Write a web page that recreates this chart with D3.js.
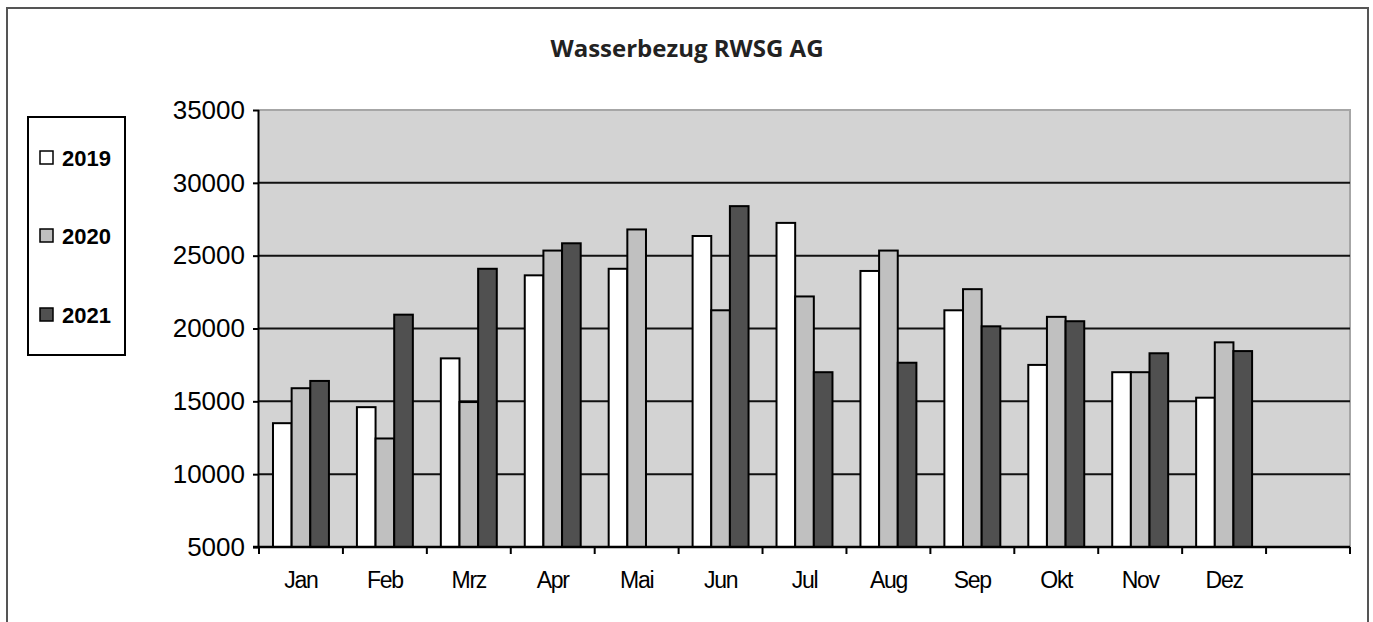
<!DOCTYPE html>
<html lang="de">
<head>
    <meta charset="utf-8">
    <script type="text/javascript" src="https://d3js.org/d3.v7.min.js"></script>
    <title>Wasserbezug RWSG AG</title>
    <style>
        html, body {
            margin: 0;
            padding: 0;
            background: white;
        }
        svg text {
            font-family: Arial, "Liberation Sans", sans-serif;
        }
    </style>
</head>
<body>
    <div id="chart"></div>

    <script type="text/javascript">

        // Data
        const months = ["Jan", "Feb", "Mrz", "Apr", "Mai", "Jun", "Jul", "Aug", "Sep", "Okt", "Nov", "Dez"];
        const years = ["2019", "2020", "2021"];
        const values2019 = [13500, 14600, 17950, 23650, 24100, 26350, 27250, 23950, 21250, 17500, 17000, 15250];
        const values2020 = [15900, 12450, 14950, 25350, 26800, 21250, 22200, 25350, 22700, 20800, 17000, 19050];
        const values2021 = [16400, 20950, 24100, 25850, null, 28400, 17000, 17650, 20150, 20500, 18300, 18450];
        const yTicks = [5000, 10000, 15000, 20000, 25000, 30000, 35000];
        const barColors = ["#ffffff", "#c0c0c0", "#505050"];

        const series = [values2019, values2020, values2021];

        const W = 1373, H = 622;
        const plot = {left: 259, right: 1350, top: 110, bottom: 547};

        const svg = d3.select("#chart")
            .append("svg")
                .attr("width", W)
                .attr("height", H);

        // outer frame
        svg.append("rect")
            .attr("x", 7).attr("y", 8)
            .attr("width", 1361).attr("height", 640)
            .attr("fill", "white")
            .attr("stroke", "#555")
            .attr("stroke-width", 2);

        // title
        svg.append("text")
            .attr("x", 687).attr("y", 57)
            .attr("text-anchor", "middle")
            .style("font-family", "'Open Sans', sans-serif")
            .style("font-weight", "700")
            .style("font-size", "24px")
            .attr("fill", "#222")
            .text("Wasserbezug RWSG AG");

        // scales: 12 months plus one empty slot at the end
        const x = d3.scaleBand()
            .domain(months.concat([""]))
            .range([plot.left, plot.right])
            .paddingInner(0)
            .paddingOuter(0);

        const y = d3.scaleLinear()
            .domain([5000, 35000])
            .range([plot.bottom, plot.top]);

        const xSub = d3.scaleBand()
            .domain(years)
            .range([0, x.bandwidth()])
            .paddingOuter(0.75)
            .paddingInner(0);

        // plot background
        svg.append("rect")
            .attr("x", plot.left).attr("y", plot.top)
            .attr("width", plot.right - plot.left)
            .attr("height", plot.bottom - plot.top)
            .attr("fill", "#d3d3d3");

        // top and right edge of plot area
        svg.append("path")
            .attr("d", `M${plot.left},${plot.top}H${plot.right}V${plot.bottom}`)
            .attr("fill", "none")
            .attr("stroke", "#a6a6a6")
            .attr("stroke-width", 2);

        // gridlines
        svg.append("g")
            .selectAll("line")
            .data(yTicks.slice(1, -1))
            .join("line")
                .attr("x1", plot.left).attr("x2", plot.right)
                .attr("y1", d => y(d)).attr("y2", d => y(d))
                .attr("stroke", "#111")
                .attr("stroke-width", 2);

        // bars
        const groups = svg.append("g")
            .selectAll("g")
            .data(series)
            .join("g")
                .attr("fill", (d, i) => barColors[i]);

        groups.each(function(vals, i) {
            d3.select(this).selectAll("rect")
                .data(vals.map((v, j) => ({month: months[j], value: v})).filter(d => d.value !== null))
                .join("rect")
                    .attr("x", d => x(d.month) + xSub(years[i]))
                    .attr("y", d => y(d.value))
                    .attr("width", xSub.bandwidth())
                    .attr("height", d => y(5000) - y(d.value))
                    .attr("stroke", "#000")
                    .attr("stroke-width", 2);
        });

        // y axis
        const yAxis = svg.append("g")
            .attr("transform", `translate(${plot.left},0)`)
            .call(d3.axisLeft(y).tickValues(yTicks).tickFormat(d3.format("d")).tickSize(6).tickPadding(8));
        yAxis.select(".domain").attr("stroke", "#000").attr("stroke-width", 2).attr("d", `M-0.5,${plot.top}V${plot.bottom}`);
        yAxis.selectAll(".tick line").attr("stroke", "#000").attr("stroke-width", 2);
        yAxis.selectAll("text")
            .style("font-size", "26px")
            .attr("fill", "#000");

        // x axis, ticks on category boundaries
        const xAxis = svg.append("g")
            .attr("transform", `translate(0,${plot.bottom})`);
        xAxis.append("line")
            .attr("x1", plot.left - 6).attr("x2", plot.right)
            .attr("y1", 0).attr("y2", 0)
            .attr("stroke", "#000").attr("stroke-width", 2.5);
        xAxis.selectAll(".xtick")
            .data(x.domain())
            .join("line")
                .attr("class", "xtick")
                .attr("x1", d => x(d)).attr("x2", d => x(d))
                .attr("y1", 0).attr("y2", 7)
                .attr("stroke", "#000").attr("stroke-width", 2);
        xAxis.append("line")
            .attr("x1", plot.right).attr("x2", plot.right)
            .attr("y1", 0).attr("y2", 7)
            .attr("stroke", "#000").attr("stroke-width", 2);
        xAxis.selectAll(".xlabel")
            .data(months)
            .join("text")
                .attr("class", "xlabel")
                .attr("x", d => x(d) + x.bandwidth() / 2)
                .attr("y", 41)
                .attr("text-anchor", "middle")
                .style("font-size", "23px")
                .style("letter-spacing", "-1.3px")
                .text(d => d);

        // legend
        const legend = svg.append("g");
        legend.append("rect")
            .attr("x", 28).attr("y", 117)
            .attr("width", 97).attr("height", 238)
            .attr("fill", "white")
            .attr("stroke", "#000")
            .attr("stroke-width", 2);
        const legendY = [158, 236, 315];
        years.forEach((yr, i) => {
            legend.append("rect")
                .attr("x", 40).attr("y", legendY[i] - 7)
                .attr("width", 13).attr("height", 13)
                .attr("fill", barColors[i])
                .attr("stroke", "#000")
                .attr("stroke-width", 1.5);
            legend.append("text")
                .attr("x", 62).attr("y", legendY[i] + 8)
                .style("font-size", "22px")
                .style("font-weight", "bold")
                .text(yr);
        });

    </script>
</body>
</html>
